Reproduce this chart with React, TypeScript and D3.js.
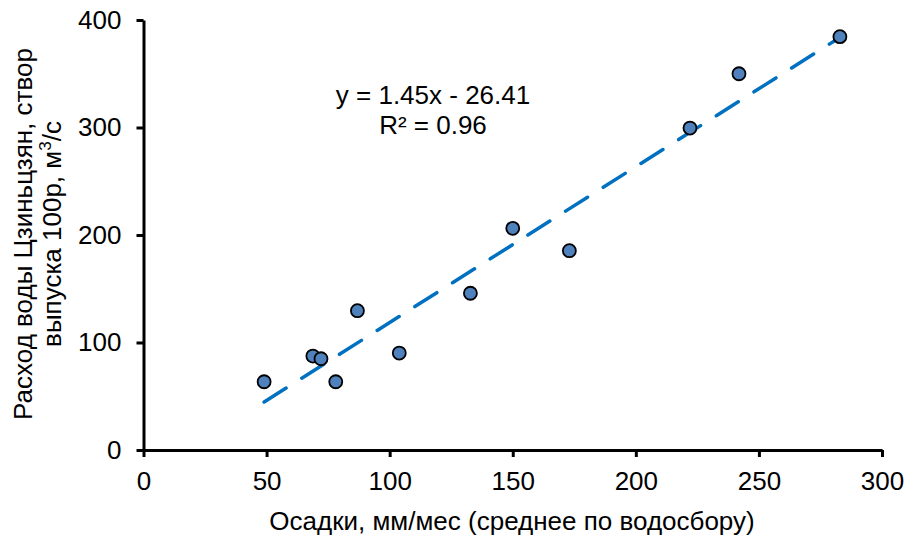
import React, { useEffect, useRef } from 'react';
import * as d3 from 'd3';

// precipitation (mm/month) vs discharge (m3/s)
const precip = [49, 68.8, 72.1, 78.1, 86.9, 103.9, 132.8, 150, 173, 222, 241.9, 282.9];
const discharge = [63.5, 87.4, 84.9, 63.5, 129.6, 90.2, 145.8, 206.2, 185.4, 299.5, 350, 384.5];
const xTicks = [0, 50, 100, 150, 200, 250, 300];
const yTicks = [0, 100, 200, 300, 400];
const slope = 1.45;
const intercept = -26.41;

const W = 908;
const H = 538;
const FONT = '"Liberation Sans", Arial, sans-serif';
const FS = 26;

export default function App() {
  const ref = useRef<SVGSVGElement>(null);

  useEffect(() => {
    const svg = d3.select(ref.current);
    svg.selectAll('*').remove();

    const x = d3.scaleLinear().domain([0, 300]).range([143.5, 882]);
    const y = d3.scaleLinear().domain([0, 400]).range([450, 20]);

    // axes
    const xAxis = d3.axisBottom(x).tickValues(xTicks).tickSize(7).tickSizeOuter(0).tickPadding(15);
    const yAxis = d3.axisLeft(y).tickValues(yTicks).tickSize(7).tickSizeOuter(0).tickPadding(15);

    const gx = svg.append('g').attr('transform', `translate(0,${y(0)})`).call(xAxis);
    const gy = svg.append('g').attr('transform', `translate(${x(0)},0)`).call(yAxis);
    [gx, gy].forEach(g => {
      g.selectAll('path').attr('stroke', '#000').attr('stroke-width', 3);
      g.selectAll('line').attr('stroke', '#000').attr('stroke-width', 3);
      g.selectAll('text')
        .attr('fill', '#000')
        .attr('font-family', FONT)
        .attr('font-size', FS);
    });

    // trend line
    const x0 = d3.min(precip) as number;
    const x1 = d3.max(precip) as number;
    svg.append('line')
      .attr('x1', x(x0)).attr('y1', y(slope * x0 + intercept))
      .attr('x2', x(x1)).attr('y2', y(slope * x1 + intercept))
      .attr('stroke', '#0070C0')
      .attr('stroke-width', 3.5)
      .attr('stroke-linecap', 'round')
      .attr('stroke-dasharray', '26,18.6');

    // points
    svg.append('g').selectAll('circle')
      .data(precip)
      .enter()
      .append('circle')
      .attr('cx', d => x(d))
      .attr('cy', (d, i) => y(discharge[i]))
      .attr('r', 6.5)
      .attr('fill', '#4F81BD')
      .attr('stroke', '#000')
      .attr('stroke-width', 1.8);

    // equation
    const eq = svg.append('text')
      .attr('font-family', FONT)
      .attr('font-size', FS)
      .attr('text-anchor', 'middle')
      .attr('fill', '#000');
    eq.append('tspan').attr('x', 433).attr('y', 104).text('y = 1.45x - 26.41');
    eq.append('tspan').attr('x', 433).attr('y', 134).text('R² = 0.96');

    // x title
    svg.append('text')
      .attr('x', 512)
      .attr('y', 530)
      .attr('text-anchor', 'middle')
      .attr('font-family', FONT)
      .attr('font-size', FS)
      .attr('fill', '#000')
      .text('Осадки, мм/мес (среднее по водосбору)');

    // y title
    const yt = svg.append('text')
      .attr('transform', 'translate(0,234) rotate(-90)')
      .attr('text-anchor', 'middle')
      .attr('font-family', FONT)
      .attr('font-size', FS)
      .attr('fill', '#000');
    yt.append('tspan').attr('x', 0).attr('y', 32).text('Расход воды Цзиньцзян, створ');
    const l2 = yt.append('tspan').attr('x', 0).attr('y', 61);
    l2.append('tspan').text('выпуска 100р, м');
    l2.append('tspan').attr('font-size', 17).attr('dy', -10).text('3');
    l2.append('tspan').attr('dy', 10).text('/с');
  }, []);

  return (
    <svg ref={ref} width={W} height={H}
      style={{ position: 'absolute', left: 0, top: 0, background: '#fff' }} />
  );
}
